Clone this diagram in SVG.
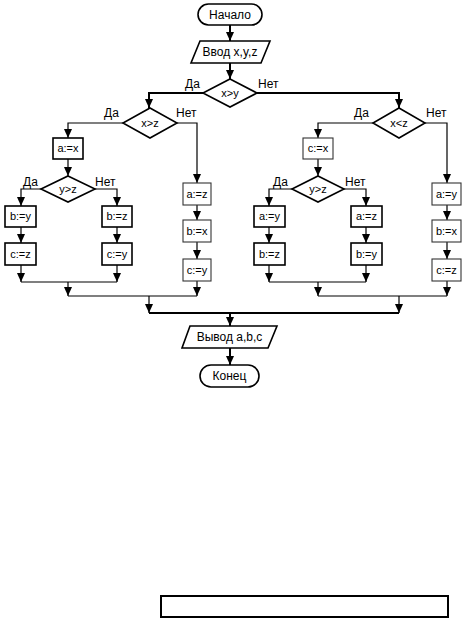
<svg xmlns="http://www.w3.org/2000/svg" width="468" height="618" viewBox="0 0 468 618">
<style>
text{font-family:"Liberation Sans",Arial,sans-serif;fill:#000}
.t{font-size:12px;text-anchor:middle}
.b{font-size:11px;text-anchor:middle}
.l{font-size:12px}
.s{fill:#fff;stroke:#000;stroke-width:1.6}
.g{fill:#fff;stroke:#333;stroke-width:1.1}
.c path{fill:none;stroke:#000;stroke-width:1.2}
.c path.m{stroke-width:2}
</style>
<defs>
<marker id="a" viewBox="0 -4.5 9 9" refX="9" refY="0" markerWidth="9" markerHeight="9" markerUnits="userSpaceOnUse" orient="auto">
<path d="M0,-4 L9,0 L0,4 z" fill="#000"/>
</marker>
</defs>
<rect x="0" y="0" width="468" height="618" fill="#fff"/>
<g class="c" id="connectors">
<path class="m" d="M230,25 V41" marker-end="url(#a)"/>
<path class="m" d="M230,63 V79" marker-end="url(#a)"/>
<path class="m" d="M203,93 H149 V108" marker-end="url(#a)"/>
<path class="m" d="M257,93 H399 V108" marker-end="url(#a)"/>
<path d="M123,123 H68 V138" marker-end="url(#a)"/>
<path d="M176,123 H197 V183" marker-end="url(#a)"/>
<path d="M68,159 V176" marker-end="url(#a)"/>
<path d="M41,189 H21 V206" marker-end="url(#a)"/>
<path d="M95,189 H117 V206" marker-end="url(#a)"/>
<path d="M21,227 V243" marker-end="url(#a)"/>
<path d="M117,227 V243" marker-end="url(#a)"/>
<path d="M21,265 V282" marker-end="url(#a)"/>
<path d="M117,265 V282" marker-end="url(#a)"/>
<path d="M21,282 H117"/>
<path d="M68,282 V296" marker-end="url(#a)"/>
<path d="M197,205 V220" marker-end="url(#a)"/>
<path d="M197,242 V259" marker-end="url(#a)"/>
<path d="M197,281 V296" marker-end="url(#a)"/>
<path d="M68,296 H197"/>
<path d="M149,296 V313" marker-end="url(#a)"/>
<path d="M373,123 H318 V138" marker-end="url(#a)"/>
<path d="M425,123 H447 V183" marker-end="url(#a)"/>
<path d="M318,159 V176" marker-end="url(#a)"/>
<path d="M292,189 H269 V206" marker-end="url(#a)"/>
<path d="M344,189 H366 V206" marker-end="url(#a)"/>
<path d="M269,227 V243" marker-end="url(#a)"/>
<path d="M366,227 V243" marker-end="url(#a)"/>
<path d="M269,265 V282" marker-end="url(#a)"/>
<path d="M366,265 V282" marker-end="url(#a)"/>
<path d="M269,282 H366"/>
<path d="M318,282 V296" marker-end="url(#a)"/>
<path d="M447,205 V220" marker-end="url(#a)"/>
<path d="M447,242 V259" marker-end="url(#a)"/>
<path d="M447,281 V296" marker-end="url(#a)"/>
<path d="M318,296 H447"/>
<path d="M399,296 V313" marker-end="url(#a)"/>
<path class="m" d="M149,313 H399"/>
<path class="m" d="M230,313 V326" marker-end="url(#a)"/>
<path class="m" d="M230,348 V365" marker-end="url(#a)"/>
</g>
<g id="start"><rect class="s" x="198" y="4" width="64" height="21" rx="10.5"/><text class="t" x="230" y="19">Начало</text></g>
<g id="input"><polygon class="s" points="200,41 270,41 261,63 191,63"/><text class="t" x="230" y="56">Ввод x,y,z</text></g>
<g id="d-xy"><polygon class="s" points="230,79 257,93 230,107 203,93"/><text class="b" x="230" y="97">x&gt;y</text>
<text class="l" x="185" y="88">Да</text><text class="l" x="258" y="88">Нет</text></g>
<g id="d-xz"><polygon class="s" points="150,108 177,123 150,138 123,123"/><text class="b" x="150" y="127">x&gt;z</text>
<text class="l" x="104" y="117">Да</text><text class="l" x="176" y="117">Нет</text></g>
<g id="ax"><rect class="s" x="53" y="138" width="30" height="21"/><text class="b" x="68" y="152">a:=x</text></g>
<g id="d-yz1"><polygon class="s" points="68,176 95,189 68,202 41,189"/><text class="b" x="68" y="193">y&gt;z</text>
<text class="l" x="23" y="186">Да</text><text class="l" x="95" y="186">Нет</text></g>
<g id="by1"><rect class="s" x="5" y="206" width="31" height="21"/><text class="b" x="20.5" y="220">b:=y</text></g>
<g id="cz1"><rect class="s" x="5" y="243" width="31" height="22"/><text class="b" x="20.5" y="258">c:=z</text></g>
<g id="bz1"><rect class="s" x="102" y="206" width="30" height="21"/><text class="b" x="117" y="220">b:=z</text></g>
<g id="cy1"><rect class="s" x="102" y="243" width="30" height="22"/><text class="b" x="117" y="258">c:=y</text></g>
<g id="az2"><rect class="g" x="183" y="183" width="28" height="22"/><text class="b" x="197" y="198">a:=z</text></g>
<g id="bx2"><rect class="g" x="183" y="220" width="28" height="22"/><text class="b" x="197" y="235">b:=x</text></g>
<g id="cy2"><rect class="g" x="183" y="259" width="28" height="22"/><text class="b" x="197" y="274">c:=y</text></g>
<g id="d-xlz"><polygon class="s" points="399,108 425,123 399,138 373,123"/><text class="b" x="399" y="127">x&lt;z</text>
<text class="l" x="354" y="117">Да</text><text class="l" x="426" y="117">Нет</text></g>
<g id="cx"><rect class="g" x="303" y="138" width="30" height="21"/><text class="b" x="318" y="152">c:=x</text></g>
<g id="d-yz2"><polygon class="s" points="318,176 344,189 318,202 292,189"/><text class="b" x="318" y="193">y&gt;z</text>
<text class="l" x="273" y="186">Да</text><text class="l" x="345" y="186">Нет</text></g>
<g id="ay3"><rect class="s" x="254" y="206" width="31" height="21"/><text class="b" x="269.5" y="220">a:=y</text></g>
<g id="bz3"><rect class="s" x="254" y="243" width="31" height="22"/><text class="b" x="269.5" y="258">b:=z</text></g>
<g id="az3"><rect class="s" x="351" y="206" width="31" height="21"/><text class="b" x="366.5" y="220">a:=z</text></g>
<g id="by3"><rect class="s" x="351" y="243" width="31" height="22"/><text class="b" x="366.5" y="258">b:=y</text></g>
<g id="ay4"><rect class="g" x="432" y="183" width="29" height="22"/><text class="b" x="446.5" y="198">a:=y</text></g>
<g id="bx4"><rect class="g" x="432" y="220" width="29" height="22"/><text class="b" x="446.5" y="235">b:=x</text></g>
<g id="cz4"><rect class="g" x="432" y="259" width="29" height="22"/><text class="b" x="446.5" y="274">c:=z</text></g>
<g id="output"><polygon class="s" points="190,326 277,326 268,348 182,348"/><text class="t" x="229.5" y="341">Вывод a,b,c</text></g>
<g id="end"><rect class="s" x="200" y="365" width="59" height="22" rx="11"/><text class="t" x="229.5" y="380">Конец</text></g>
<rect x="161" y="596" width="287" height="21" fill="none" stroke="#000" stroke-width="2"/>
</svg>
